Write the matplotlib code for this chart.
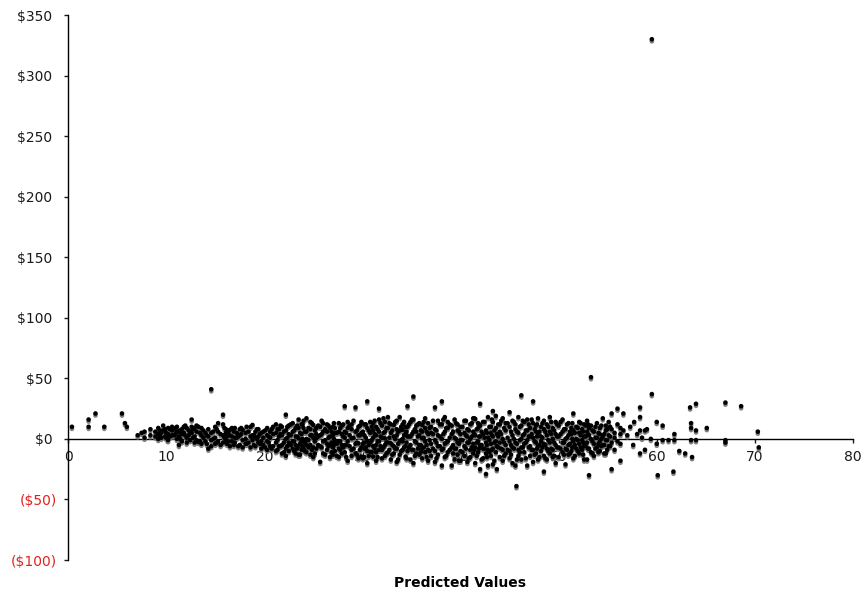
import matplotlib
matplotlib.use("Agg")
import matplotlib.pyplot as plt
import matplotlib.patheffects as pe

# sparse points at the low end of the predictions
low_pred = [0.4, 2.1, 2.1, 2.8, 3.7, 5.5, 5.8, 6.0]
low_resid = [10, 16, 10, 21, 10, 21, 13, 10]

# dense band, one predicted value per column with its residuals
band_pred_a = [7.1, 7.5, 7.8, 8.4, 8.9, 9.2, 9.5, 9.7, 9.9, 10.2,
               10.6, 10.8, 11.1, 11.3, 11.6, 11.8, 12.1, 12.3, 12.6, 12.9,
               13.1, 13.3, 13.6, 14.0, 14.3, 14.6, 15.0, 15.3, 15.8, 16.1,
               16.2, 16.5, 16.7, 16.9, 17.0, 17.2, 17.5, 17.8, 18.1, 18.2,
               18.6, 18.8, 19.1, 19.4, 19.7, 19.9, 20.3, 20.6, 20.9]
band_resid_a = [[3], [5], [6, 1], [8, 3], [6, 2], [9, 4, 0], [5, 1], [11, 7], [2, 8], [9, 4, -1],
                [7, 3, 10], [3, 8], [10, 6, 0], [6, 2, -5], [8, -2, 4], [5, 10], [9, 1, -3], [3, 7], [16, 10, 5], [2, 9, -3],
                [-1, 6, 11], [10, -2.5], [9, 3, -4], [-2, 5], [-8, 2, 8], [41, 5, -1, -6], [10, 1, -4], [13, 6, -2], [20, 12, 3, -3], [5, -1, 8],
                [-4, 2], [7.5, -6, 3], [-2, 2, 9], [6, -5], [9, 1, -3], [1, 5], [-5, 3, 8], [7.5, -1, -7], [5, 0, -4], [-4, 10],
                [10, 2, -7], [11.5, 3, -1], [-6, 6, 1], [2, 8, -3], [5, -2, -8], [1, 6, -5], [3, -2, 9, -9], [6, 1, -6], [-6, 4, 10]]

band_pred_a2 = [9.35, 10.0, 10.4, 10.95, 11.45, 11.95, 12.45, 12.75, 13.45, 13.8,
                14.15, 14.8, 15.15, 15.55, 15.95, 16.35, 17.35, 17.65, 18.4, 18.95,
                19.25, 19.55, 20.1, 20.45, 20.75]
band_resid_a2 = [[3, 7], [5, 1], [8, 2], [4, 9], [7, 0], [3, 11], [6, -1], [8, 1], [5, -2], [7, 1],
                 [3, -4], [6, 0], [8, -3], [4, -5], [9, 1], [6, -2], [2, -6], [9, 4], [6, -3], [3, -5],
                 [8, 0], [4, -4], [7, -7], [2, -3], [8, -8]]

band_pred_b = [21.2, 21.5, 21.8, 22.2, 22.5, 22.9, 23.2, 23.5, 23.8, 24.0,
               24.3, 24.7, 25.0, 25.3, 25.7, 26.0, 26.4, 26.7, 27.0, 27.2,
               27.6, 27.9, 28.2, 28.5, 28.9, 29.3, 29.6, 29.9]
band_resid_b = [[5, -3, 12, -10], [2, 8, -6], [3, -5, 10, -12], [20, 7, 0, -8, -14], [11, 4, -3, -10],
                [-2, 6, 13, -8], [9, 2, -5, -12], [16, 9, 0.5, -6, -13], [4, -2, 12, -9], [9, -1, -8, 15],
                [17, 6, 0, -5, -11], [14, 3, -5, -13, 8], [11.5, 1, -7, -15], [9, 0.5, -8, 4], [10, 3, -6, -19],
                [-12, -2, 6, 13], [6, -4, -9, 12], [-15, -5, 2, 9], [3, 10, -7, -13], [9, -2, 5, -10],
                [13, -2, 6, -8, -15], [4, -5, 11, -12], [27, 6, -5, 1, -11], [-18, 9, -2, 14], [0.5, -9, 8, 12, -14],
                [26, 6, -4, -12], [-3.6, 3, 10, -16], [14, -14.6, 5, -7]]

band_pred_c = [30.2, 30.5, 30.8, 31.1, 31.4, 31.7, 32.0, 32.3, 32.6, 32.9,
               33.2, 33.5, 33.8, 34.1, 34.4, 34.6, 34.9, 35.2, 35.5, 35.8,
               36.1, 36.4, 36.7, 37.0, 37.4, 37.7, 38.1, 38.4, 38.7, 39.1,
               39.4, 39.7]
band_resid_c = [[3, -8, 12, -15, -3], [31, 9, -2, -10, -20], [-10.5, 5, 14, -3], [13, -14.6, 1, -6, 7], [3, -5, 10, -18, -11],
                [25, 6, -2, -9, 16], [-9, 1, 11, -16], [14, 0.5, -14, 6, -5], [18, 9, -3, -11], [-3.6, 5, 12, -17],
                [-12, 11.5, 2, -6], [3, -8, 15, -19, 8], [18, 7, -2, -13], [7.5, -2, -9, 12, 0], [-14.6, 4, -6, 10],
                [27, 10, 2, -10], [2, -5, 14, -17], [35, 16, 6, -9, -20], [6, -3, -12, 11], [-13, -5, 3, 13],
                [11.5, 0.5, -8, -16, 6], [9, -2, -11, 17], [-9, 4, 13, -18], [5, -4, 10, -14], [26, 8, -1, -10, -19],
                [15, 3, -6, -13], [31, 12, 0, -9, -22], [6, -4, -15, 18], [-2, 9, -11, 14], [-22, 4, -7, 11],
                [16, 1, -8, -17], [7, -3, -13, 12]]

band_pred_d = [40.0, 40.4, 40.7, 41.0, 41.3, 41.5, 41.8, 42.0, 42.3, 42.6,
               42.8, 43.1, 43.3, 43.6, 43.7, 44.0, 44.3, 44.6, 45.0, 45.3,
               45.6, 45.7, 45.9, 46.2, 46.5, 46.8, 47.1, 47.4, 47.7, 47.9,
               48.2, 48.5, 48.8, 49.1, 49.4, 49.7]
band_resid_d = [[10, -1, -10, -18, 4], [15, 5, -6, -14], [-3, 8, -19, 2], [12, 0, -9, -15], [6, -4, -12, 17],
                [16.5, 3, -7, -20], [-2, 9, -11, 13], [29, 11, -25, -5, 2], [4, -8, -16, 14], [-29, 7, -3, -12],
                [-22, 18, 1, -9], [10, -4, -14, 5], [23, -21, 2, -8, 14], [9, -2, -11, 19], [-25, 4, -6],
                [12, -3, -15, 6], [17, 0, -9, -18], [7, -5, 13, -12], [22, 10, -2, -10, -16], [3, -7, 15, -20],
                [-22, 8, -3, 12], [-39], [5, -9, 18, -14], [36, 11, 0, -7, -17], [14, 4, -11, -4],
                [-22, 7, -1, 16], [9, -6, -14, 2], [31, 13, 1, -9, -19], [6, -3, 11, -12], [-17, 4, 17, -6],
                [10, -2, -10, 2], [-27, -14, 8, 15, -4], [3, -8, 12, -17], [18, 6, -3, -12], [9, 0, -9, -15],
                [-5, 4, 14, -20]]

band_pred_e = [50.0, 50.4, 50.7, 51.0, 51.3, 51.5, 51.8, 52.1, 52.4, 52.6,
               52.9, 53.1, 53.3, 53.6, 53.9, 54.2, 54.5, 54.8, 55.1, 55.4,
               55.7, 56.0, 56.3, 56.6]
band_resid_e = [[11, 2, -7, -15], [6, -3, -11, 16], [-21, 8, 0, -8], [13, 3, -5, -13], [4, -10, 9],
                [21, 7, -2, -16], [10, 0, -8], [5, -4, 14, -12], [-1, 8, -9], [12, 2, -6, -17],
                [-17, 6, -3, 15], [-30, 3, -8, 9], [51, 11, 0, -11], [6, -4, -14], [13, 1, -7],
                [9, -2, -10, 4], [-5, 17, 2], [7, -1, -12, 11], [3, -6, 14], [21, -25, 8, -3],
                [5, -9, 1], [25, 12, -2], [-18, 4, 9, -4], [21, 7]]

# extra columns between the ones above, where the band is thickest
fill_pred = [21.35, 21.65, 22.0, 22.35, 22.7, 23.05, 23.35, 23.65, 23.9, 24.15,
             24.5, 24.85, 25.15, 25.5, 25.85, 26.2, 26.55, 26.85, 27.1, 27.4,
             27.75, 28.05, 28.35, 28.7, 29.1, 29.45, 29.75, 30.05, 30.35, 30.65,
             30.95, 31.25, 31.55, 31.85, 32.15, 32.45, 32.75, 33.05, 33.35, 33.65,
             33.95, 34.25, 34.5, 34.75, 35.05, 35.35, 35.65, 35.95, 36.25, 36.55,
             36.85, 37.2, 37.55, 37.9, 38.25, 38.55, 38.9, 39.25, 39.55, 39.85,
             40.2, 40.55, 40.85, 41.15, 41.4, 41.65, 41.9, 42.15, 42.45, 42.7,
             42.95, 43.2, 43.45, 43.85, 44.15, 44.45, 44.8, 45.15, 45.45, 45.75,
             46.05, 46.35, 46.65, 46.95, 47.25, 47.55, 47.8, 48.05, 48.35, 48.65,
             48.95, 49.25, 49.55, 49.85, 50.2, 50.55, 50.85, 51.15, 51.4, 51.65,
             51.95, 52.25, 52.5, 52.75, 53.0, 53.45, 53.75, 54.05, 54.35, 54.65,
             54.95, 55.25]
fill_resid = [[8, -1, -9], [4, -6, 11], [-3, 6, -11], [10, 1, -6], [-5, 3, 12],
              [7, -2, -10], [2, -8, 11], [-4, 5, -13], [12, 0, -6], [6, -3, -10],
              [9, -1, -7], [3, -9, 13], [-2, 7, -12], [11, 2, -5], [-7, 4, 15],
              [8, -1, -13], [1, -6, 11], [-3, 6, -11], [13, 0, -5], [5, -4, -14],
              [9, -2, -9], [2, -7, 12], [-5, 5, -15], [11, 3, -6], [-8, 1, 15],
              [7, -3, -13], [3, -9, 11], [-4, 6, -16], [12, 1, -7], [7, -5, -14],
              [10, -1, -11], [4, -8, 15], [-2, 8, -15], [13, 2, -6], [-7, 5, 17],
              [9, -3, -12], [1, -9, 13], [-5, 7, -13], [14, 0, -8], [6, -4, -17],
              [10, -1, -10], [3, -7, 14], [-3, 6, -16], [12, 2, -7], [-9, 4, 16],
              [8, -2, -14], [2, -8, 12], [-5, 7, -11], [14, 1, -7], [6, -5, -15],
              [9, -1, -10], [4, -8, 15], [-3, 7, -16], [12, 2, -6], [-8, 4, 16],
              [9, -3, -14], [1, -9, 12], [-5, 6, -12], [13, 0, -8], [6, -4, -18],
              [10, -1, -11], [3, -8, 15], [-3, 7, -16], [13, 2, -7], [-9, 4, 17],
              [8, -3, -14], [2, -8, 12], [-5, 6, -17], [14, 1, -8], [5, -5, -15],
              [10, -1, -11], [3, -9, 16], [-3, 7, -18], [12, 2, -7], [-8, 4, 15],
              [9, -3, -14], [1, -9, 13], [-5, 6, -13], [14, 0, -8], [6, -4, -17],
              [10, -1, -11], [3, -7, 15], [-3, 7, -16], [12, 2, -7], [-9, 4, 16],
              [8, -2, -13], [2, -8, 12], [-5, 6, -15], [13, 1, -7], [6, -5, -16],
              [10, -1, -10], [4, -8, 14], [-3, 7, -14], [12, 2, -7], [-8, 4, 14],
              [8, -3, -13], [1, -9, 12], [-4, 6, -12], [13, 0, -7], [5, -5, -14],
              [9, -1, -10], [3, -7, 13], [-3, 6, -13], [11, 2, -6], [-8, 4, 12],
              [7, -2, -12], [1, -8, 10], [-4, 5, -11], [11, 0, -6], [4, -5, -12],
              [8, -1, -9], [2, -6, 10]]

# sparse points at the high end, including the big outlier
high_pred = [57.0, 57.3, 57.6, 57.7, 58.0, 58.3, 58.3, 58.3, 58.3, 58.5,
             58.8, 58.8, 59.0, 59.4, 59.5, 59.5, 60.0, 60.0, 60.1, 60.6,
             60.6, 61.2, 61.7, 61.8, 61.8, 62.3, 62.9, 63.4, 63.5, 63.5,
             63.5, 63.6, 64.0, 64.0, 64.0, 65.1, 67.0, 67.0, 67.0, 68.6,
             70.3, 70.4]
high_resid = [3, 10, -5, 14, 4, 26, 18, -12, 7, 1,
              7, -9, 8, 0, 37, 330, 14, -4, -30, 11,
              -1, -1, -27, 4, -1, -10, -12, 26, 13, 9,
              -1, -15, 29, 7, -1, 9, 30, -1, -3, 27,
              6, -7]

y_ticks = [-100, -50, 0, 50, 100, 150, 200, 250, 300, 350]
y_labels = ['($100)', '($50)', '$0 ', '$50 ', '$100 ', '$150 ', '$200 ', '$250 ', '$300 ', '$350 ']
x_ticks = [0, 10, 20, 30, 40, 50, 60, 70, 80]

# flatten the band columns into x/y pairs
pred = list(low_pred)
resid = list(low_resid)
for cols, vals in [(band_pred_a, band_resid_a), (band_pred_a2, band_resid_a2),
                   (band_pred_b, band_resid_b), (band_pred_c, band_resid_c),
                   (band_pred_d, band_resid_d), (band_pred_e, band_resid_e),
                   (fill_pred, fill_resid)]:
    assert len(cols) == len(vals)
    for x, ys in zip(cols, vals):
        for y in ys:
            pred.append(x)
            resid.append(y)
pred += high_pred
resid += high_resid

fig = plt.figure(figsize=(8.63, 5.94), dpi=100)
ax = fig.add_axes([0.0788, 0.0572, 0.9096, 0.9175])

ax.scatter(pred, resid, s=11, c='black', linewidths=0, zorder=3,
           path_effects=[pe.SimplePatchShadow(offset=(0, -1.5), shadow_rgbFace='0.45', alpha=0.9),
                         pe.Normal()])

ax.set_xlim(0, 80)
ax.set_ylim(-100, 350)

# axis lines: y on the left, x through zero
ax.spines['top'].set_visible(False)
ax.spines['right'].set_visible(False)
ax.spines['bottom'].set_position(('data', 0))
ax.spines['left'].set_linewidth(1.0)
ax.spines['bottom'].set_linewidth(1.0)

ax.set_xticks(x_ticks)
ax.set_xticklabels([str(v) for v in x_ticks])
ax.tick_params(axis='x', direction='out', length=3, width=1, pad=5, labelsize=10, colors='#1a1a1a')

ax.set_yticks(y_ticks)
ax.set_yticklabels(y_labels)
ax.tick_params(axis='y', direction='out', length=3, width=1, pad=5, labelsize=10, colors='#1a1a1a')
for lab, v in zip(ax.get_yticklabels(), y_ticks):
    if v < 0:
        lab.set_color('#e3211c')

fig.text(0.5336, 1 - 583 / 594, 'Predicted Values', ha='center', va='center',
         fontsize=10, fontweight='bold', color='black')

plt.savefig('out.png', dpi=100)
